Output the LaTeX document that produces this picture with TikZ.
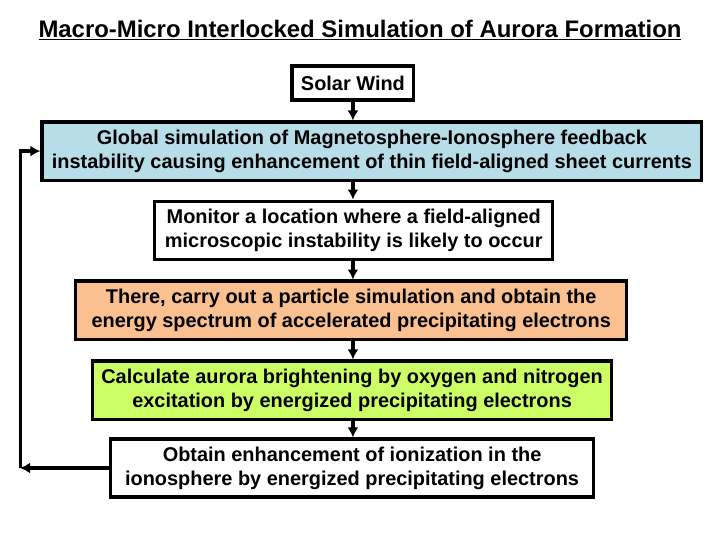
\documentclass[tikz,border=0pt]{standalone}
\usepackage{fontspec}
\setmainfont{Liberation Sans}
\usepackage{tikz}
\usetikzlibrary{positioning}
\usetikzlibrary{backgrounds}
\usetikzlibrary{arrows.meta}
\definecolor{globalblue}{RGB}{183,221,232}
\definecolor{particlepeach}{RGB}{250,192,144}
\definecolor{auroragreen}{RGB}{204,255,102}
\tikzset{stepbox/.style={draw,align=center,minimum height=2.05cm,inner sep=2pt,font=\fontsize{20}{24}\selectfont\bfseries},
  flow/.style={-{Latex[length=10pt,width=11pt]}}}

\begin{document}
\begin{tikzpicture}[line width=3.2pt]
    \useasboundingbox [fill=white] (0,0) rectangle (25.4,-19.05);
    \node (title) at (12.70,-1.06) {\fontsize{24}{28}\selectfont\bfseries\underline{Macro-Micro Interlocked Simulation of Aurora Formation}};
    \node (sw) at (12.45,-2.93) [stepbox, minimum width=4.3cm, minimum height=1.2cm] {Solar Wind};
    \node (global) [below of=sw, node distance=2.4cm, xshift=0.67cm, minimum width=23.28cm, stepbox, fill=globalblue] {Global simulation of Magnetosphere-Ionosphere feedback\\instability causing enhancement of thin field-aligned sheet currents};
    \node (monitor) [below of=global, node distance=2.79cm, xshift=-0.64cm, minimum width=14.04cm, stepbox] {Monitor a location where a field-aligned\\microscopic instability is likely to occur};
    \node (particle) [below of=monitor, node distance=2.82cm, xshift=-0.09cm, minimum width=19.44cm, stepbox, fill=particlepeach] {There, carry out a particle simulation and obtain the\\energy spectrum of accelerated precipitating electrons};
    \node (aurora) [below of=particle, node distance=2.82cm, xshift=0.03cm, minimum width=18.31cm, stepbox, fill=auroragreen] {Calculate aurora brightening by oxygen and nitrogen\\excitation by energized precipitating electrons};
    \node (ion) [below of=aurora, node distance=2.75cm, minimum width=17.04cm, stepbox] {Obtain enhancement of ionization in the\\ionosphere by energized precipitating electrons};
    \coordinate (loop) at (0.71,0 |- ion.west);

    \draw[flow] (sw) -- (sw |- global.north);
    \draw[flow] (sw |- global.south) -- (sw |- monitor.north);
    \draw[flow] (sw |- monitor.south) -- (sw |- particle.north);
    \draw[flow] (sw |- particle.south) -- (sw |- aurora.north);
    \draw[flow] (sw |- aurora.south) -- (sw |- ion.north);
    % feedback to the global model
    \draw[flow] (ion.west) -- (loop);
    \draw[flow] (loop) |- (global.west);
\end{tikzpicture}
\end{document}
